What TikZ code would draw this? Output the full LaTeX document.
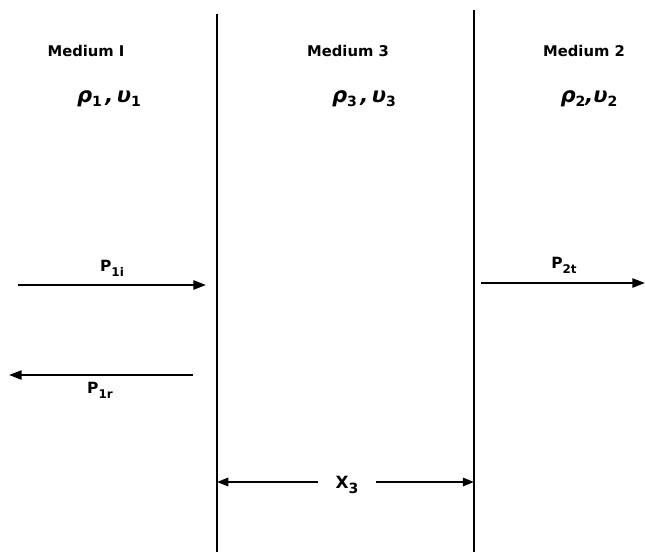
\documentclass[tikz,border=0pt]{standalone}
\usepackage{fontspec}
\newfontfamily\letr{DejaVu Sans Bold}
\newfontfamily\letrit{DejaVu Sans Bold Oblique}
\usetikzlibrary{arrows.meta}
\newcommand{\lsub}[1]{\raisebox{-3.5pt}{\fontsize{8.5}{9}\selectfont #1}}
\newcommand{\gsub}[1]{\raisebox{-3pt}{\fontsize{10}{11}\selectfont\letr #1}}
\begin{document}
\begin{tikzpicture}[x=0.025cm,y=-0.025cm,
  wall/.style={line width=1.4pt},
  wave/.style={line width=1.5pt,-{Triangle[length=9pt,width=6.5pt]}},
  dim/.style={line width=1.3pt,-{Triangle[length=8pt,width=6pt]}},
  lbl/.style={font=\letr\fontsize{10.5}{12}\selectfont,inner sep=1pt},
  plbl/.style={font=\letr\fontsize{11}{12}\selectfont,inner sep=1pt},
  prop/.style={font=\letrit\fontsize{15}{17}\selectfont,inner sep=1pt}]
\useasboundingbox (0,0) rectangle (645,552);
% walls
\coordinate (w1t) at (217,14);
\coordinate (w1b) at (217,552);
\coordinate (w2t) at (474,10);
\coordinate (w2b) at (474,552);
\draw[wall] (w1t) -- (w1b);
\draw[wall] (w2t) -- (w2b);
% media labels
\node[lbl] (m1) at (86,51) {Medium I};
\node[lbl] (m3) at (348,51) {Medium 3};
\node[lbl] (m2) at (584,51) {Medium 2};
\node[prop] (p1) at (109,99) {ρ\gsub{1}\,,\,υ\gsub{1}};
\node[prop] (p3) at (364,99) {ρ\gsub{3}\,,\,υ\gsub{3}};
\node[prop] (p2) at (589,99) {ρ\gsub{2},υ\gsub{2}};
% waves
\coordinate (a1s) at (18,285);
\coordinate (a1e) at (206,285);
\draw[wave] (a1s) -- (a1e);
\node[plbl] (l1i) at (112,268) {P\lsub{1i}};
\coordinate (a2s) at (193,375);
\coordinate (a2e) at (9,375);
\draw[wave] (a2s) -- (a2e);
\node[plbl] (l1r) at (100,390) {P\lsub{1r}};
\coordinate (a3s) at (481,283);
\coordinate (a3e) at (645,283);
\draw[wave] (a3s) -- (a3e);
\node[plbl] (l2t) at (564,265) {P\lsub{2t}};
% dimension
\node[lbl,font=\letr\fontsize{12}{14}\selectfont,inner sep=2pt] (x3) at (347,485) {X\raisebox{-4pt}{\fontsize{10}{11}\selectfont 3}};
\coordinate (d1) at (217,482);
\coordinate (d2) at (474,482);
\coordinate (g1) at (318,482);
\coordinate (g2) at (376,482);
\draw[dim] (g1) -- (d1);
\draw[dim] (g2) -- (d2);
\end{tikzpicture}
\end{document}
